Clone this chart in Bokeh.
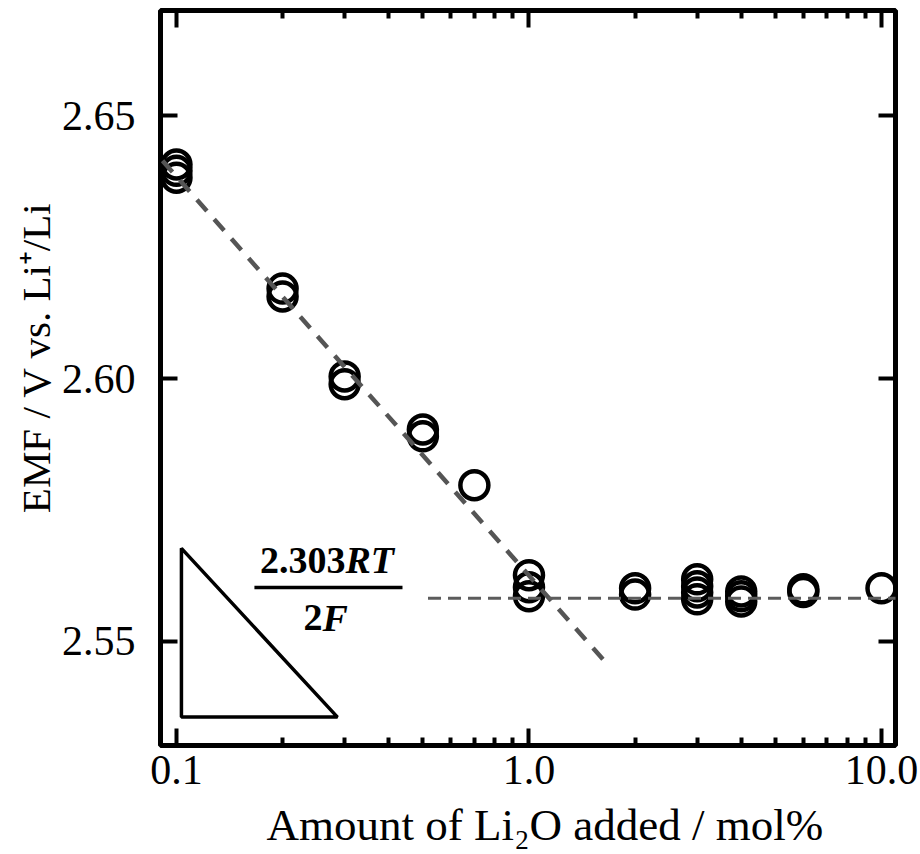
from bokeh.plotting import figure
from bokeh.models import (FixedTicker, PrintfTickFormatter, LogAxis, LinearAxis,
                          Range1d)
from bokeh.core.properties import value
from bokeh.embed import file_html
from bokeh.resources import INLINE

# ---- data ----
emf_x = [0.1, 0.1, 0.1, 0.2, 0.2, 0.3, 0.3, 0.5, 0.5, 0.7,
         1.0, 1.0, 1.0, 2.0, 2.0, 3.0, 3.0, 3.0, 3.0,
         4.0, 4.0, 4.0, 6.0, 6.0, 10.0]
emf_y = [2.6407, 2.6395, 2.6382, 2.6171, 2.6156, 2.6004, 2.5989, 2.5903, 2.5890, 2.5797,
         2.5626, 2.5603, 2.5586, 2.5601, 2.5589, 2.5618, 2.5605, 2.5593, 2.5580,
         2.5595, 2.5586, 2.5576, 2.5599, 2.5594, 2.5601]

slope_x = [0.0913, 1.632]
slope_y = [2.6414, 2.5464]
flat_x = [0.517, 11.5]
flat_y = [2.5582, 2.5582]

tri_x = [0.1033, 0.1033, 0.2862]
tri_y = [2.5677, 2.5356, 2.5356]

bar_x = [0.1664, 0.4377]
bar_y = [2.56027, 2.56027]
num_join_x = [0.3016]
num_y = [2.5654]
den_join_x = [0.2596]
den_y = [2.5545]

x_major = [0.1, 1.0, 10.0]
x_minor = [0.2, 0.3, 0.4, 0.5, 0.6, 0.7, 0.8, 0.9,
           2.0, 3.0, 4.0, 5.0, 6.0, 7.0, 8.0, 9.0]
y_major = [2.55, 2.60, 2.65]

FONT = "Liberation Serif"
NB = "\u00a0"

p = figure(width=920, height=854, x_axis_type="log",
           x_range=Range1d(0.0901, 10.957), y_range=Range1d(2.5302, 2.6700),
           output_backend="svg", toolbar_location=None,
           min_border_left=160, min_border_right=25,
           min_border_top=10, min_border_bottom=109)
p.grid.visible = False
p.outline_line_color = "black"
p.outline_line_width = 5
p.background_fill_color = "white"
p.border_fill_color = "white"


def style(ax):
    ax.axis_line_color = None
    ax.major_tick_in = 17
    ax.major_tick_out = 0
    ax.minor_tick_in = 8
    ax.minor_tick_out = 0
    ax.major_tick_line_width = 4
    ax.minor_tick_line_width = 4
    ax.major_tick_line_color = "black"
    ax.minor_tick_line_color = "black"
    ax.major_label_text_font = FONT
    ax.major_label_text_color = "black"
    ax.axis_label_text_font = FONT
    ax.axis_label_text_font_style = "normal"
    ax.axis_label_text_color = "black"


xa = p.xaxis[0]
style(xa)
xa.ticker = FixedTicker(ticks=x_major, minor_ticks=x_minor)
xa.formatter = PrintfTickFormatter(format="%.1f")
xa.major_label_text_font_size = "42px"
xa.major_label_standoff = 10
xa.axis_label = NB * 3 + "Amount of Li\u2082O added / mol%"
xa.axis_label_text_font_size = "45px"
xa.axis_label_standoff = 13

ya = p.yaxis[0]
style(ya)
ya.ticker = FixedTicker(ticks=y_major, minor_ticks=[])
ya.formatter = PrintfTickFormatter(format="%.2f")
ya.major_label_text_font_size = "42px"
ya.major_label_standoff = 25
ya.axis_label = NB * 4 + "EMF / V vs. Li\u207a/Li"
ya.axis_label_text_font_size = "41px"
ya.axis_label_standoff = 0

top = LogAxis(ticker=FixedTicker(ticks=x_major, minor_ticks=x_minor))
style(top)
top.major_label_text_font_size = "0px"
top.major_label_standoff = 0
top.major_label_overrides = {0.1: "", 1.0: "", 10.0: ""}
p.add_layout(top, "above")

right = LinearAxis(ticker=FixedTicker(ticks=y_major, minor_ticks=[]))
style(right)
right.major_label_text_font_size = "0px"
right.major_label_standoff = 0
right.major_label_overrides = {2.55: "", 2.6: "", 2.65: ""}
p.add_layout(right, "right")

# data points
p.scatter(emf_x, emf_y, marker="circle", size=28, fill_color=None,
          line_color="black", line_width=4.5)

# guide lines
p.line(slope_x, slope_y, line_color="#555555", line_width=4.5, line_dash="15 11")
p.line(flat_x, flat_y, line_color="#5c5c5c", line_width=3, line_dash="13 7")

# slope triangle
p.patch(tri_x, tri_y, fill_color=None, line_color="black", line_width=3.5)

# fraction 2.303RT / 2F
p.line(bar_x, bar_y, line_color="black", line_width=3.5)
p.text(num_join_x, num_y, text=["2.303"], text_font=value(FONT),
       text_font_style="bold", text_font_size=value("38px"),
       text_align="right", text_baseline="alphabetic", text_color="black")
p.text(num_join_x, num_y, text=["RT"], text_font=value(FONT),
       text_font_style="bold italic", text_font_size=value("38px"),
       text_align="left", text_baseline="alphabetic", text_color="black")
p.text(den_join_x, den_y, text=["2"], text_font=value(FONT),
       text_font_style="bold", text_font_size=value("38px"),
       text_align="right", text_baseline="alphabetic", text_color="black")
p.text(den_join_x, den_y, text=["F"], text_font=value(FONT),
       text_font_style="bold italic", text_font_size=value("38px"),
       text_align="left", text_baseline="alphabetic", text_color="black")

open("out.html", "w").write(file_html(p, INLINE))
